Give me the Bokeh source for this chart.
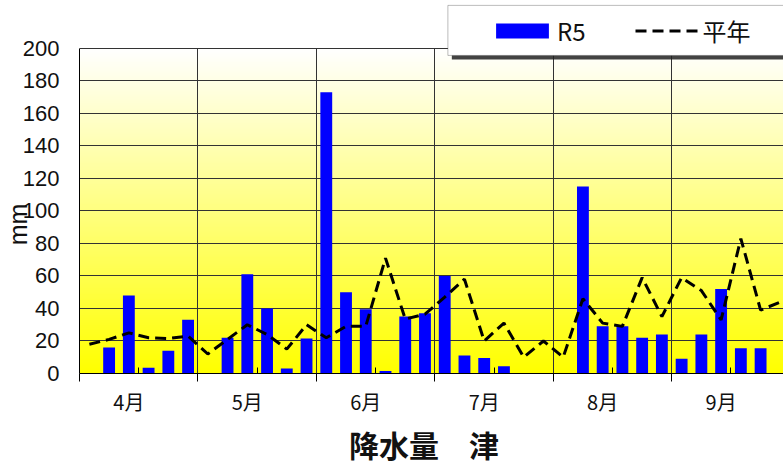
import numpy as np
from bokeh.plotting import figure
from bokeh.models import (Range1d, FixedTicker, LinearAxis, Legend, LegendItem,
                          BoxAnnotation, Grid, CustomJSTickFormatter)
from bokeh.embed import file_html
from bokeh.resources import INLINE

# ---- data (半旬 = 5-day periods, 6 per month) ----
months = ["4月", "5月", "6月", "7月", "8月", "9月"]
r5 = [0, 16, 48, 3.5, 14, 33,
      0, 22, 61, 40, 3, 21.5,
      173, 50, 39.5, 1.5, 35, 37,
      60, 11, 9.5, 4.5, 0, 0,
      0, 115, 29, 29, 22, 24,
      9, 24, 52, 15.5, 15.5, 0]
normal = [18, 21, 25, 22, 21.5, 23,
          12, 21, 30, 24, 15, 30,
          22, 29, 29, 71, 33.5, 36.5,
          47, 58, 20, 31, 10, 20,
          10, 46, 31, 29, 59, 35,
          59, 51, 33, 83, 39, 44]
y_ticks = list(range(0, 201, 20))

n_per = 6
xs = list(range(len(r5)))
boundaries = [i * n_per - 0.5 for i in range(len(months) + 1)]
centers = [i * n_per + 2.5 for i in range(len(months))]
label_pos = [i * n_per + 2 for i in range(len(months))]

p = figure(width=783, height=468, output_backend="svg", toolbar_location=None,
           x_range=Range1d(-0.5, 35.16), y_range=Range1d(0, 229.5),
           x_axis_location=None, y_axis_location="left",
           min_border_left=78, min_border_top=0, min_border_right=0, min_border_bottom=95)
p.outline_line_color = None
p.background_fill_color = "white"
p.border_fill_color = "white"
for g in p.xgrid:
    g.visible = False

# gradient background (white top -> yellow bottom)
N = 256
img = np.empty((N, 1), dtype=np.uint32)
view = img.view(dtype=np.uint8).reshape((N, 1, 4))
t = np.linspace(0, 1, N)
view[:, 0, 0] = 255
view[:, 0, 1] = 255
view[:, 0, 2] = (255 * t).astype(np.uint8)
view[:, 0, 3] = 255
p.image_rgba(image=[img], x=-0.5, y=0, dw=36, dh=200, level="image")

# y axis
p.yaxis.ticker = FixedTicker(ticks=y_ticks)
p.yaxis.bounds = (0, 200)
p.yaxis.major_tick_out = 0
p.yaxis.major_tick_in = 0
p.yaxis.minor_tick_line_color = None
p.yaxis.major_label_standoff = 20
p.yaxis.major_label_text_font = "Liberation Sans"
p.yaxis.major_label_text_font_size = "22px"
p.yaxis.major_label_text_color = "#111111"
p.yaxis.axis_line_color = "black"
p.yaxis.axis_label = "mm\u2003\u2003\u2003"
p.yaxis.axis_label_standoff = -12
p.yaxis.axis_label_text_font = "Liberation Sans"
p.yaxis.axis_label_text_font_size = "25px"
p.yaxis.axis_label_text_font_style = "normal"
p.yaxis.axis_label_text_color = "#111111"
p.ygrid.ticker = FixedTicker(ticks=y_ticks)
p.ygrid.grid_line_color = "#333333"
p.ygrid.grid_line_width = 1

xgrid = Grid(dimension=0, ticker=FixedTicker(ticks=boundaries), cross_bounds=(0, 200),
             grid_line_color="#333333", grid_line_width=1)
p.add_layout(xgrid)

# x axis: ticks at month boundaries
ax1 = LinearAxis(ticker=FixedTicker(ticks=boundaries, minor_ticks=centers),
                 major_tick_out=8, major_tick_in=0, minor_tick_in=6, minor_tick_out=0,
                 major_label_standoff=0, major_label_text_font_size="0px",
                 formatter=CustomJSTickFormatter(code="return ''"),
                 axis_line_color="black", major_tick_line_color="black",
                 minor_tick_line_color="black")
# x axis: month labels + chart title as axis label
ax2 = LinearAxis(ticker=FixedTicker(ticks=label_pos),
                 major_label_overrides={pos: m for pos, m in zip(label_pos, months)},
                 major_tick_line_color=None, major_tick_out=0, major_tick_in=0,
                 minor_tick_line_color=None, axis_line_color=None,
                 major_label_standoff=5, major_label_text_font="Noto Sans CJK JP",
                 major_label_text_font_size="20px", major_label_text_color="#111111",
                 axis_label="降水量　津\u2002", axis_label_standoff=3,
                 axis_label_text_font="Noto Sans CJK JP", axis_label_text_font_size="30px",
                 axis_label_text_font_style="bold", axis_label_text_color="#111111")
p.add_layout(ax1, "below")
p.add_layout(ax2, "below")

bars = p.vbar(x=xs, top=r5, width=0.6, fill_color="#0000FF", line_color=None)
line = p.line(xs, normal, line_color="black", line_width=3, line_dash="11 6")

# legend box with shadow
p.add_layout(BoxAnnotation(left=18.36, right=40, top=224.0, bottom=193.2,
                           fill_color="#222222", fill_alpha=0.85, line_color=None))
p.add_layout(BoxAnnotation(left=18.16, right=40, top=226.5, bottom=195.7,
                           fill_color="white", fill_alpha=1, line_color="#222222",
                           line_width=1))

legend = Legend(items=[LegendItem(label="R5", renderers=[bars]),
                       LegendItem(label="平年", renderers=[line])],
                orientation="horizontal", location=(410, 325),
                border_line_color=None, background_fill_alpha=0,
                padding=0, margin=0, glyph_width=66, glyph_height=19,
                label_standoff=2, spacing=49,
                label_text_font="Noto Sans CJK JP", label_text_font_size="24px",
                label_text_color="#111111")
p.add_layout(legend)

open("out.html", "w").write(file_html(p, INLINE))
